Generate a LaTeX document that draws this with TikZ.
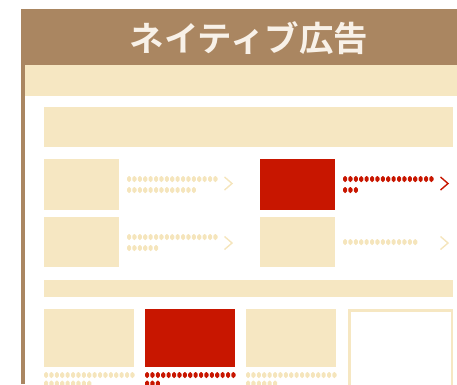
\documentclass[tikz,border=0pt]{standalone}
\usepackage{fontspec}
\usepackage{tikz}
\newfontfamily\cjk{Noto Sans CJK JP}[BoldFont={Noto Sans CJK JP Bold}]
\definecolor{adbrown}{RGB}{170,134,97}
\definecolor{adcream}{RGB}{246,231,194}
\definecolor{addot}{RGB}{245,229,188}
\definecolor{adred}{RGB}{200,22,0}
\definecolor{adtitle}{RGB}{248,241,232}
\newcommand{\drawdots}[4]{
	\foreach \i in {1,...,#3} {
		\pgfmathsetmacro{\x}{#1 + 5.4*(\i-1)}
		\fill[#4, rounded corners=1.8pt] (\x,#2-3) rectangle ++(4.1,6);
	}
}
\newcommand{\drawchevron}[3]{
	\draw[#3, line width=1.4pt] (#1,#2-6.5) -- (#1+7.5,#2) -- (#1,#2+6.5);
}
\newcommand{\drawthumb}[5]{
	\fill[#5] (#1,#2) rectangle (#3,#4);
}

\begin{document}
\begin{tikzpicture}[x=1pt,y=-1pt]
	\useasboundingbox (0,0) rectangle (457,384);
	% frame and header
	\fill[adbrown] (21,9) rectangle (457,65);
	\fill[adbrown] (21,65) rectangle (24.5,384);
	\fill[adcream] (24.5,65) rectangle (457,96);
	\node[text=adtitle, font=\cjk\bfseries\fontsize{34.5}{34.5}\selectfont] (title) at (249,38.5) {ネイティブ広告};
	% list section
	\fill[adcream] (44,107) rectangle (453,147);
	\drawthumb{44}{159}{119}{210}{adcream}
	\drawdots{127}{179}{17}{addot}
	\drawdots{127}{190}{13}{addot}
	\drawchevron{224.5}{183.5}{addot}
	\drawthumb{260}{159}{335}{210}{adred}
	\drawdots{343}{179}{17}{adred}
	\drawdots{343}{190}{3}{adred}
	\drawchevron{440.5}{183.5}{adred}
	\drawthumb{44}{217}{119}{267}{adcream}
	\drawdots{127}{237}{17}{addot}
	\drawdots{127}{248}{6}{addot}
	\drawchevron{224.5}{243}{addot}
	\drawthumb{260}{217}{335}{267}{adcream}
	\drawdots{343}{242}{14}{addot}
	\drawchevron{440.5}{243}{addot}
	% grid section
	\fill[adcream] (44,280) rectangle (453,297);
	\drawthumb{44}{309}{134}{367}{adcream}
	\drawdots{44}{375}{17}{addot}
	\drawdots{44}{383.5}{9}{addot}
	\drawthumb{145}{309}{235}{367}{adred}
	\drawdots{145}{375}{17}{adred}
	\drawdots{145}{383.5}{3}{adred}
	\drawthumb{246}{309}{336}{367}{adcream}
	\drawdots{246}{375}{17}{addot}
	\drawdots{246}{383.5}{6}{addot}
	\draw[adcream, line width=2.5pt] (349.25,400) -- (349.25,310.25) -- (451.75,310.25) -- (451.75,400);
\end{tikzpicture}
\end{document}
